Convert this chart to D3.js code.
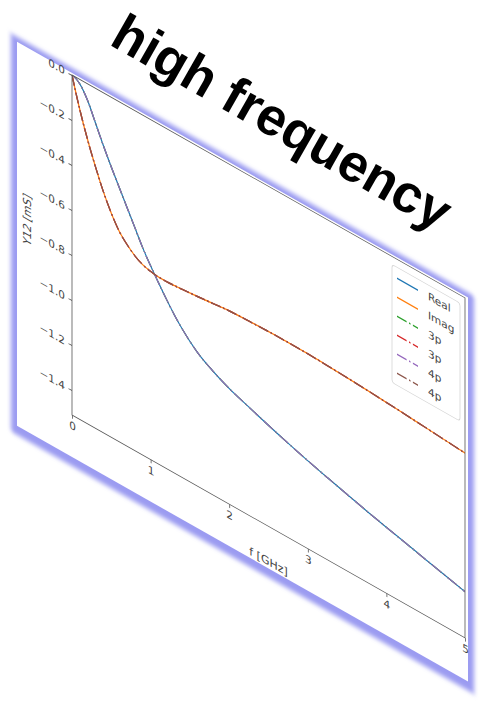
<!DOCTYPE html>
<html><head><meta charset="utf-8">
<script src="https://cdn.jsdelivr.net/npm/d3@7"></script>
<style>html,body{margin:0;padding:0;background:#fff;}</style>
</head><body><svg id="c" width="486" height="704"></svg>
<script>
// ---- data ----
const freq = [0, 0.05, 0.1, 0.2, 0.3, 0.4, 0.5, 0.6, 0.7, 0.8, 0.9, 1.0, 1.1, 1.2, 1.3, 1.4, 1.6, 1.8, 2.0, 2.25, 2.5, 2.75, 3.0, 3.25, 3.5, 3.75, 4.0, 4.25, 4.5, 4.75, 5.0];
const realY12 = [0, -0.006, -0.02, -0.075, -0.155, -0.235, -0.31, -0.38, -0.45, -0.52, -0.59, -0.65, -0.705, -0.758, -0.807, -0.85, -0.918, -0.962, -0.997, -1.03, -1.062, -1.092, -1.12, -1.146, -1.171, -1.195, -1.218, -1.24, -1.262, -1.284, -1.306];
const imagY12 = [0, -0.07, -0.135, -0.25, -0.35, -0.44, -0.515, -0.575, -0.615, -0.645, -0.665, -0.675, -0.68, -0.68, -0.678, -0.675, -0.668, -0.66, -0.652, -0.648, -0.645, -0.644, -0.645, -0.648, -0.652, -0.657, -0.663, -0.669, -0.676, -0.683, -0.69];
const fit3pReal = realY12.slice();
const fit3pImag = imagY12.slice();
const fit4pReal = realY12.slice();
const fit4pImag = imagY12.slice();
const seriesNames = ["Real", "Imag", "3p", "3p", "4p", "4p"];
const seriesColors = ["#1f77b4", "#ff7f0e", "#2ca02c", "#d62728", "#9467bd", "#8c564b"];
const xTicks = [0, 1, 2, 3, 4, 5];
const yTicks = [0, -0.2, -0.4, -0.6, -0.8, -1.0, -1.2, -1.4];
const titleText = "high frequency";
const xLabel = "f [GHz]";
const yLabel = "Y12 [mS]";

// ---- layout ----
const W = 393, H = 340;
const svg = d3.select('#c');
const defs = svg.append('defs');
defs.append('filter').attr('id', 'glow')
  .attr('x', '-20%').attr('y', '-20%').attr('width', '140%').attr('height', '140%')
  .append('feGaussianBlur').attr('stdDeviation', 2.5);
defs.append('clipPath').attr('id', 'clip').append('rect').attr('width', W).attr('height', H);

const g = svg.append('g').attr('transform', 'matrix(1,0.567,0,1,72,75)');

// figure panel with glow
g.append('rect').attr('x', -61).attr('y', -7).attr('width', 463).attr('height', 398)
  .attr('fill', '#8a8aee').attr('fill-opacity', 0.85).attr('filter', 'url(#glow)');
g.append('rect').attr('x', -55).attr('y', -2).attr('width', 451).attr('height', 384).attr('fill', '#fff');

const x = d3.scaleLinear().domain([0, 5]).range([0, W]);
const y = d3.scaleLinear().domain([-1.511, 0]).range([H, 0]);

const font = "DejaVu Sans, sans-serif";

// axes
const xa = g.append('g').attr('transform', `translate(0,${H})`)
  .call(d3.axisBottom(x).tickValues(xTicks).tickSize(3.5).tickPadding(3.5).tickFormat(d3.format('d')));
const ya = g.append('g')
  .call(d3.axisLeft(y).tickValues(yTicks).tickSize(3.5).tickPadding(3.5).tickFormat(d3.format('.1f')));
[xa, ya].forEach(a => {
  a.select('.domain').remove();
  a.selectAll('line').attr('stroke', '#555').attr('stroke-width', 0.8);
  a.selectAll('text').attr('font-family', font).attr('font-size', 10.5).attr('fill', '#444');
});

// curves
const line = d3.line().x((d, i) => x(freq[i])).y(d => y(d)).curve(d3.curveMonotoneX);
const plot = g.append('g').attr('clip-path', 'url(#clip)');
const dashDot = '9.6,2.4,1.5,2.4';
const series = [
  {vals: realY12, c: 0, dash: null},
  {vals: imagY12, c: 1, dash: null},
  {vals: fit3pReal, c: 2, dash: dashDot},
  {vals: fit3pImag, c: 3, dash: dashDot},
  {vals: fit4pReal, c: 4, dash: dashDot},
  {vals: fit4pImag, c: 5, dash: dashDot}
];
series.forEach(s => {
  plot.append('path').attr('d', line(s.vals)).attr('fill', 'none')
    .attr('stroke', seriesColors[s.c]).attr('stroke-width', 1.5)
    .attr('stroke-dasharray', s.dash);
});

// spines
g.append('rect').attr('width', W).attr('height', H).attr('fill', 'none')
  .attr('stroke', '#555').attr('stroke-width', 0.8);

// axis labels
g.append('text').attr('x', W / 2).attr('y', 379).attr('text-anchor', 'middle')
  .attr('font-family', font).attr('font-size', 11).attr('fill', '#444').text(xLabel);
g.append('text').attr('transform', `translate(-41,${H / 2}) rotate(-90)`).attr('text-anchor', 'middle')
  .attr('font-family', font).attr('font-size', 11).attr('fill', '#444').text(yLabel);

// legend
const lg = g.append('g');
lg.append('rect').attr('x', 320).attr('y', 8).attr('width', 68).attr('height', 118).attr('rx', 3)
  .attr('fill', '#fff').attr('fill-opacity', 0.8).attr('stroke', '#d5d5d5').attr('stroke-width', 0.8);
seriesNames.forEach((n, i) => {
  const yy = 19 + i * 19;
  lg.append('line').attr('x1', 325).attr('x2', 346).attr('y1', yy).attr('y2', yy)
    .attr('stroke', seriesColors[i]).attr('stroke-width', 1.5)
    .attr('stroke-dasharray', i < 2 ? null : dashDot);
  lg.append('text').attr('x', 356).attr('y', yy).attr('dy', '0.35em')
    .attr('font-family', font).attr('font-size', 10.5).attr('fill', '#444').text(n);
});

// title
svg.append('text').attr('transform', 'translate(108,44) rotate(29.6)')
  .attr('font-family', 'Liberation Sans, Arial, sans-serif').attr('font-weight', 'bold')
  .attr('font-size', 53).attr('fill', '#000').text(titleText);
</script>
</body></html>
